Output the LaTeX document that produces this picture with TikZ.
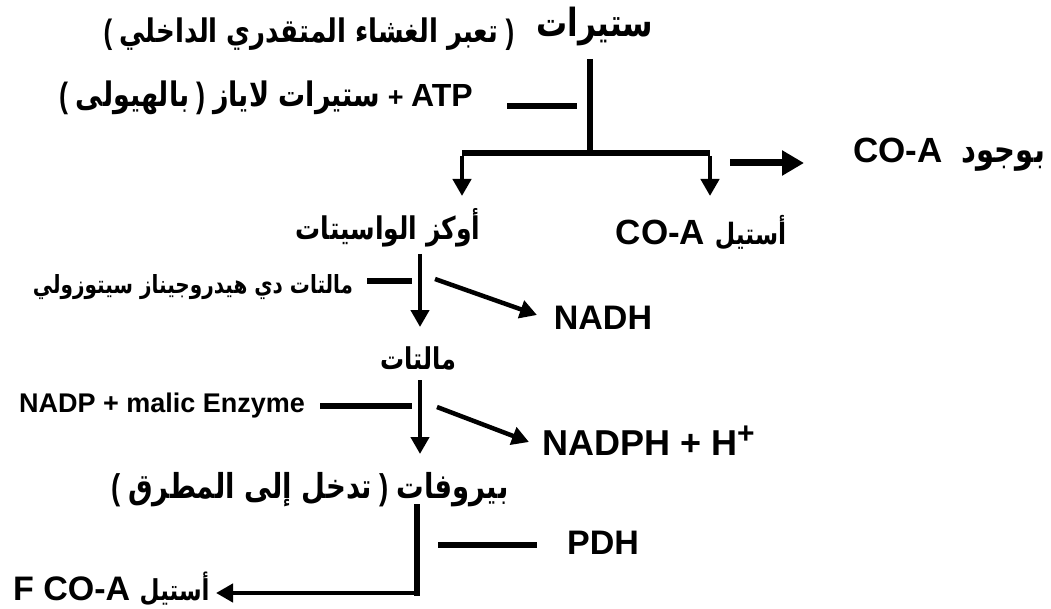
\documentclass[tikz,border=0pt]{standalone}
\usepackage{fontspec}
\usepackage{graphicx}
\setmainfont{Liberation Sans}
\newfontfamily\arfont[Script=Arabic]{DejaVu Sans}
\TeXXeTstate=1
\usetikzlibrary{arrows.meta}
\newcommand\AR[1]{\scalebox{1}[1.25]{\arfont\beginR #1\endR}}
\newcommand\fs[1]{\fontsize{#1}{#1}\selectfont}
\newcommand\lpar{\raisebox{-1pt}{\scalebox{1}[1.3]{(}}}
\newcommand\rpar{\raisebox{-1pt}{\scalebox{1}[1.3]{)}}}
\tikzset{
  lt/.style={inner sep=0pt, anchor=center, font=\bfseries\fontsize{#1}{#1}\selectfont},
  ln/.style={line width=6pt},
  arr/.style={line width=4.5pt, -{Triangle[width=18pt,length=17pt]}},
  bigarr/.style={line width=7pt, -{Triangle[width=24pt,length=22pt]}},
}
\begin{document}
\begin{tikzpicture}[x=1pt,y=-1pt]
\useasboundingbox[fill=white] (0,0) rectangle (1051,609);
% texts
\node[lt=31] (st) at (595,27) {\AR{ستيرات}};
\node[lt=26] (memb) at (309,34) {\lpar\ \AR{تعبر الغشاء المتقدري الداخلي} \rpar};
\node[lt=27] (atp) at (266,98) {\lpar\ \AR{بالهيولى} \rpar\ \AR{ستيرات لاياز} + {\fs{32}ATP}};
\node[lt=35] (bwj) at (949,155) {CO-A\ \ \AR{\fs{29}بوجود}};
\node[lt=25] (oxa) at (388,228) {\AR{أوكز الواسيتات}};
\node[lt=35] (acoa) at (701,233) {CO-A \AR{\fs{23.5}أستيل}};
\node[lt=20] (mdh) at (193,287) {\AR{مالتات دي هيدروجيناز سيتوزولي}};
\node[lt=34] (nadh) at (603,318) {NADH};
\node[lt=24] (mal) at (418,358) {\AR{مالتات}};
\node[lt=27] (nadp) at (162,406) {NADP + malic Enzyme};
\node[lt=36,anchor=west] (nadph) at (542,441) {NADPH + H\raisebox{12pt}{\fs{30}+}};
\node[lt=27.5] (pyr) at (310,490) {\lpar\ \AR{تدخل إلى المطرق} \rpar\ \AR{بيروفات}};
\node[lt=34] (pdh) at (603,543) {PDH};
\node[lt=34,anchor=west] (fcoa) at (13,589) {F CO-A \AR{\fs{23}أستيل}};
% coordinates
\coordinate (s0) at (590,59);
\coordinate (j) at (590,153);
\coordinate (lt1) at (462,196);
\coordinate (rt1) at (710,196);
\coordinate (e1a) at (507,106);
\coordinate (e1b) at (577,106);
\coordinate (ra) at (730,163);
\coordinate (rb) at (804,163);
\coordinate (v1a) at (420,254);
\coordinate (v1b) at (420,327);
\coordinate (e2a) at (367,281);
\coordinate (e2b) at (412,281);
\coordinate (d1a) at (435,279);
\coordinate (d1b) at (537,315);
\coordinate (v2a) at (420,380);
\coordinate (v2b) at (420,454);
\coordinate (e3a) at (320,406);
\coordinate (e3b) at (412,406);
\coordinate (d2a) at (437,407);
\coordinate (d2b) at (529,442);
\coordinate (v3a) at (417,507);
\coordinate (v3b) at (417,593);
\coordinate (v3c) at (216,593);
\coordinate (e4a) at (438,545);
\coordinate (e4b) at (537,545);
% connectors
\draw[ln] (s0) -- (j);
\draw[ln] (lt1 |- j) -- (rt1 |- j);
\draw[arr] ([yshift=-3pt]lt1 |- j) -- (lt1);
\draw[arr] ([yshift=-3pt]rt1 |- j) -- (rt1);
\draw[ln] (e1a) -- (e1b);
\draw[bigarr] (ra) -- (rb);
\draw[arr] (v1a) -- (v1b);
\draw[ln] (e2a) -- (e2b);
\draw[arr] (d1a) -- (d1b);
\draw[arr] (v2a) -- (v2b);
\draw[ln] (e3a) -- (e3b);
\draw[arr] (d2a) -- (d2b);
\draw[ln,line cap=rect] (v3a) -- (v3b);
\draw[arr] (v3b) -- (v3c);
\draw[ln] (e4a) -- (e4b);
\end{tikzpicture}
\end{document}
